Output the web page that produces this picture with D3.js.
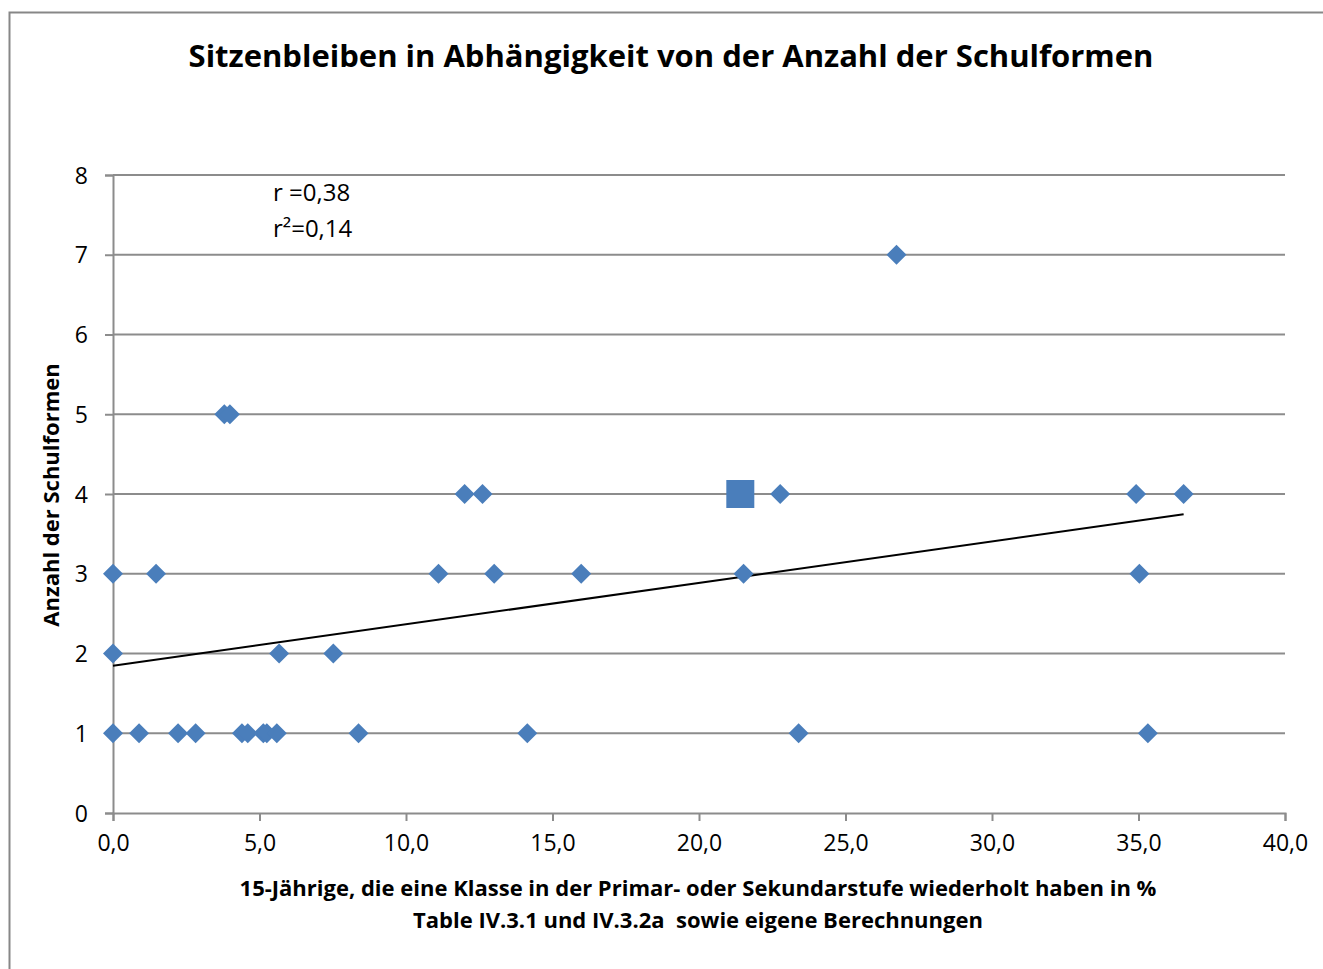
<!DOCTYPE html>
<html>
<head>
<meta charset="utf-8">
<script src="https://cdn.jsdelivr.net/npm/d3@7"></script>
<style>
  body { margin: 0; background: #fff; }
  svg { display: block; font-family: "Open Sans", "Noto Sans", sans-serif; }
</style>
</head>
<body>
<div id="chart"></div>
<script>
// repeaters in % (x) and number of school types (y)
var xValues = [26.74, 3.80, 3.99, 12.0, 12.61, 22.77, 34.92, 36.54,
  0, 1.47, 11.11, 13.01, 15.98, 21.52, 35.03,
  0, 5.67, 7.52,
  0, 0.89, 2.22, 2.82, 4.40, 4.60, 5.13, 5.25, 5.59, 8.38, 14.14, 23.40, 35.32];
var yValues = [7, 5, 5, 4, 4, 4, 4, 4,
  3, 3, 3, 3, 3, 3, 3,
  2, 2, 2,
  1, 1, 1, 1, 1, 1, 1, 1, 1, 1, 1, 1, 1];
// highlighted point (Germany)
var highlightX = [21.41];
var highlightY = [4];
// linear trend line
var trendIntercept = 1.846;
var trendSlope = 0.052;
var trendRange = [0, 36.54];

var xTicks = [0, 5, 10, 15, 20, 25, 30, 35, 40];
var yTicks = [0, 1, 2, 3, 4, 5, 6, 7, 8];
var statLines = ["r =0,38", "r\u00b2=0,14"];

var W = 1323, H = 969;
var margin = { top: 175, right: 38, bottom: 156, left: 113 };
var width = W - margin.left - margin.right,
    height = H - margin.top - margin.bottom;
var font = '"Open Sans", "Noto Sans", sans-serif';

var svg = d3.select("#chart").append("svg")
  .attr("width", W).attr("height", H);

// outer chart border
svg.append("rect")
  .attr("x", 9.5).attr("y", 12.5)
  .attr("width", W + 20).attr("height", H + 20)
  .attr("fill", "none").attr("stroke", "#878787").attr("stroke-width", 2);

var g = svg.append("g")
  .attr("transform", "translate(" + margin.left + "," + margin.top + ")");

var x = d3.scaleLinear().domain([0, 40]).range([0, width]);
var y = d3.scaleLinear().domain([0, 8]).range([height, 0]);

var fmt = function(d) { return d3.format(".1f")(d).replace(".", ","); };

// horizontal grid lines
g.append("g")
  .selectAll("line")
  .data(yTicks.slice(1))
  .enter().append("line")
  .attr("x1", 0).attr("x2", width)
  .attr("y1", d => y(d)).attr("y2", d => y(d))
  .attr("stroke", "#8c8c8c").attr("stroke-width", 2);

// x axis
var xAxis = g.append("g")
  .attr("transform", "translate(0," + height + ")")
  .call(d3.axisBottom(x).tickValues(xTicks).tickFormat(fmt).tickSize(8).tickPadding(14));

// y axis
var yAxis = g.append("g")
  .call(d3.axisLeft(y).tickValues(yTicks).tickFormat(d3.format("d")).tickSize(8).tickPadding(17));

[xAxis, yAxis].forEach(function(a) {
  a.attr("font-family", null).attr("font-size", null);
  a.select(".domain").attr("stroke", "#8c8c8c").attr("stroke-width", 2);
  a.selectAll(".tick line").attr("stroke", "#8c8c8c").attr("stroke-width", 2);
  a.selectAll(".tick text").attr("fill", "#000")
    .style("font-family", font).style("font-size", "23px");
});
yAxis.selectAll(".tick text").attr("dy", "0.35em");

// trend line
g.append("path")
  .datum(trendRange)
  .attr("fill", "none")
  .attr("stroke", "#000")
  .attr("stroke-width", 2)
  .attr("d", d3.line()
    .x(d => x(d))
    .y(d => y(trendIntercept + trendSlope * d)));

// diamonds
var diamond = d3.symbol().type(d3.symbolSquare).size(200);
g.append("g")
  .selectAll("path")
  .data(xValues.map((v, i) => [v, yValues[i]]))
  .enter().append("path")
  .attr("d", diamond)
  .attr("transform", d => "translate(" + x(d[0]) + "," + y(d[1]) + ") rotate(45)")
  .attr("fill", "#4a7ebb");

// highlighted square
g.append("g")
  .selectAll("path")
  .data(highlightX.map((v, i) => [v, highlightY[i]]))
  .enter().append("path")
  .attr("d", d3.symbol().type(d3.symbolSquare).size(784))
  .attr("transform", d => "translate(" + x(d[0]) + "," + y(d[1]) + ")")
  .attr("fill", "#4a7ebb");

// r / r² text
svg.append("g")
  .selectAll("text")
  .data(statLines)
  .enter().append("text")
  .attr("x", 273)
  .attr("y", (d, i) => 201 + i * 36)
  .style("font-size", "24px")
  .text(d => d);

// title
svg.append("text")
  .attr("x", 671).attr("y", 67)
  .attr("text-anchor", "middle")
  .style("font-size", "31px").style("font-weight", "bold")
  .text("Sitzenbleiben in Abhängigkeit von der Anzahl der Schulformen");

// x axis title
svg.append("text")
  .attr("x", 698).attr("y", 896)
  .attr("text-anchor", "middle")
  .style("font-size", "22px").style("font-weight", "bold")
  .text("15-Jährige, die eine Klasse in der Primar- oder Sekundarstufe wiederholt haben in %");
svg.append("text")
  .attr("x", 698).attr("y", 928)
  .attr("text-anchor", "middle")
  .style("font-size", "22px").style("font-weight", "bold")
  .style("white-space", "pre")
  .text("Table IV.3.1 und IV.3.2a  sowie eigene Berechnungen");

// y axis title
svg.append("text")
  .attr("transform", "translate(59,495) rotate(-90)")
  .attr("text-anchor", "middle")
  .style("font-size", "22px").style("font-weight", "bold")
  .text("Anzahl der Schulformen");
</script>
</body>
</html>
